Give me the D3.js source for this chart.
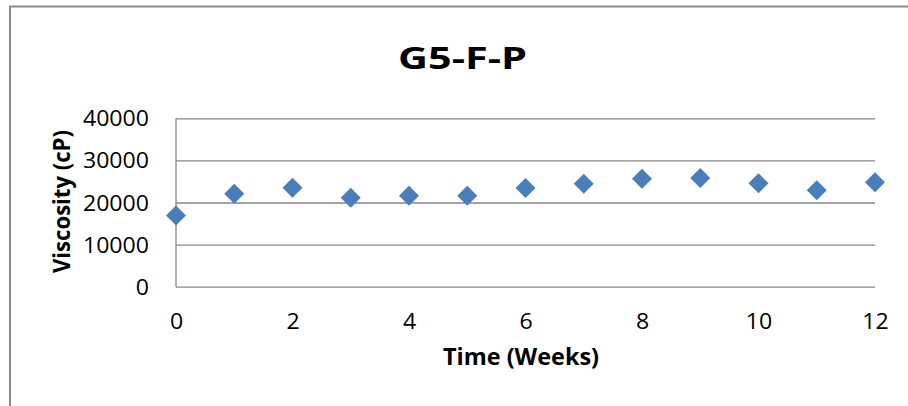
<!DOCTYPE html>
<html>
<head>
<meta charset="utf-8">
<script src="https://cdn.jsdelivr.net/npm/d3@7"></script>
<style>
html,body{margin:0;padding:0;background:#fff;}
svg{display:block;}
</style>
</head>
<body>
<svg id="chart" width="908" height="406"></svg>
<script>
const weeks = [0,1,2,3,4,5,6,7,8,9,10,11,12];
const viscosity = [16900,22100,23500,21150,21600,21600,23450,24450,25650,25800,24550,22900,24800];
const xTicks = [0,2,4,6,8,10,12];
const yTicks = [0,10000,20000,30000,40000];
const title = "G5-F-P";
const xLabel = "Time (Weeks)";
const yLabel = "Viscosity (cP)";

const svg = d3.select("#chart");
const W = 908, H = 406;
const m = {left:176, right:W-875, top:118.3, bottom:H-286.7};

// outer chart border
svg.append("rect").attr("x",10).attr("y",6.5).attr("width",1000).attr("height",500)
  .attr("fill","none").attr("stroke","#8a8a8a").attr("stroke-width",2);

const x = d3.scaleLinear().domain([0,12]).range([m.left, W-m.right]);
const y = d3.scaleLinear().domain([0,40000]).range([H-m.bottom, m.top]);

// gridlines
const gridAxis = d3.axisLeft(y).tickValues(yTicks).tickSize(-(W-m.right-m.left)).tickFormat("");
const g = svg.append("g").attr("transform",`translate(${m.left},0)`).call(gridAxis);
g.select(".domain").remove();
g.selectAll("line").attr("stroke","#868686").attr("stroke-width",1.3);

// y axis line
svg.append("line").attr("x1",m.left).attr("x2",m.left).attr("y1",y(40000)).attr("y2",y(0))
  .attr("stroke","#868686").attr("stroke-width",1.3);

// y tick labels
const yAx = d3.axisLeft(y).tickValues(yTicks).tickSize(0).tickPadding(27).tickFormat(d3.format("d"));
const ya = svg.append("g").attr("transform",`translate(${m.left},0)`).call(yAx);
ya.select(".domain").remove();
ya.selectAll("text").attr("font-family","'Open Sans', sans-serif").attr("font-size",21)
  .attr("fill","#000").attr("dy","0.36em");

// x tick labels
const xAx = d3.axisBottom(x).tickValues(xTicks).tickSize(0).tickPadding(0).tickFormat(d3.format("d"));
const xa = svg.append("g").attr("transform",`translate(0,${y(0)})`).call(xAx);
xa.select(".domain").remove();
xa.selectAll("text").attr("font-family","'Open Sans', sans-serif").attr("font-size",21)
  .attr("fill","#000").attr("dy",null).attr("y",42.5);

// match label widths of the reference
svg.selectAll(".tick text").each(function(){
  const t = d3.select(this);
  const w = this.getComputedTextLength();
  if (w>0) t.attr("textLength", w*1.1).attr("lengthAdjust","spacingAndGlyphs");
});

// points
const sym = d3.symbol().type(d3.symbolSquare).size(200);
svg.append("g").selectAll("path").data(weeks).join("path")
  .attr("d", sym)
  .attr("transform",(d,i)=>`translate(${x(d)},${y(viscosity[i])}) rotate(45)`)
  .attr("fill","#4A7EBB");

// title
svg.append("text").attr("x",462.5).attr("y",68.5).attr("text-anchor","middle")
  .attr("font-family","'Open Sans', sans-serif").attr("font-weight","bold").attr("font-size",31)
  .attr("textLength",129).attr("lengthAdjust","spacingAndGlyphs").text(title);

// x label
svg.append("text").attr("x",521).attr("y",365).attr("text-anchor","middle")
  .attr("font-family","'Open Sans', sans-serif").attr("font-weight","bold").attr("font-size",24)
  .attr("textLength",156).attr("lengthAdjust","spacingAndGlyphs").text(xLabel);

// y label
svg.append("text").attr("transform","translate(70,201.5) rotate(-90)").attr("text-anchor","middle")
  .attr("font-family","'Open Sans', sans-serif").attr("font-weight","bold").attr("font-size",24)
  .attr("textLength",143).attr("lengthAdjust","spacingAndGlyphs").text(yLabel);
</script>
</body>
</html>
